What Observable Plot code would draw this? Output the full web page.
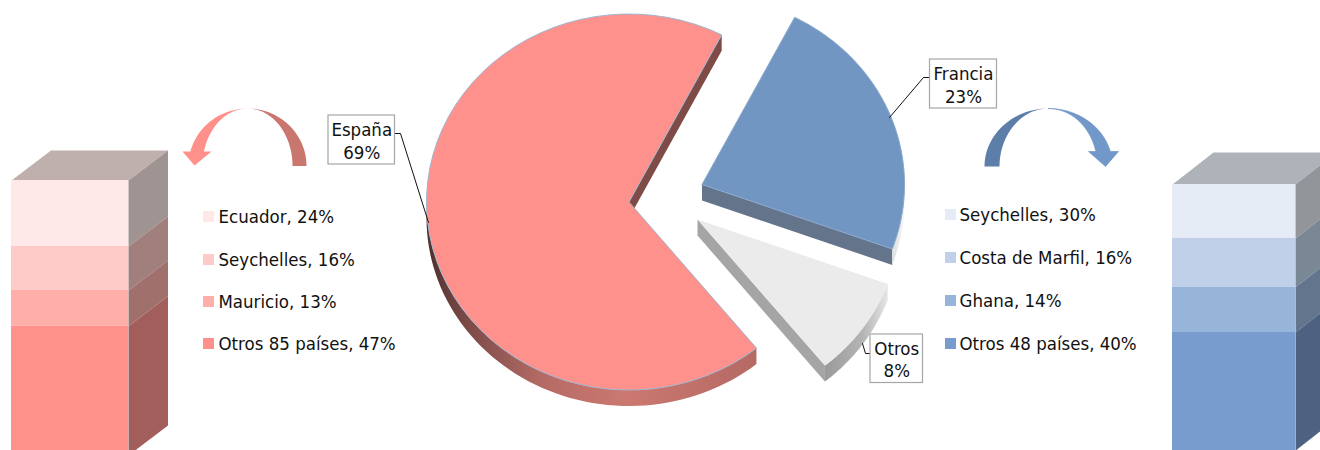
<!DOCTYPE html>
<html>
<head>
<meta charset="utf-8">
<script src="https://cdn.jsdelivr.net/npm/d3@7"></script>
<script src="https://cdn.jsdelivr.net/npm/@observablehq/plot@0.6"></script>
<style>
html,body{margin:0;padding:0;background:#fff;overflow:hidden}
svg{display:block}
</style>
</head>
<body>
<div id="chart"></div>
<script>
// ---- values ----
const pieLabels = ["España", "Francia", "Otros"];
const pieShares = [69, 23, 8];
// slice sizes as measured on the drawn pie (before the labels' rounding)
const pieDrawnShares = [68.4, 23, 8.6];

const leftNames = ["Ecuador", "Seychelles", "Mauricio", "Otros 85 países"];
const leftShares = [24, 16, 13, 47];

const rightNames = ["Seychelles", "Costa de Marfil", "Ghana", "Otros 48 países"];
const rightShares = [30, 16, 14, 40];
// the right column in the picture is not drawn in proportion to its labels
const rightColumnHeights = [19.6, 17.8, 16.4, 43];

// ---- styling and layout ----
const FONT = '"DejaVu Sans Condensed","DejaVu Sans",sans-serif';
const leftFront = ["#ffe9e8", "#ffcbc8", "#ffaea9", "#ff918a"];
const leftSide = ["#a09492", "#a07f7c", "#a0706c", "#a25e5b"];
const rightFront = ["#e6ecf6", "#bfd0e8", "#97b4d9", "#789cce"];
const rightSide = ["#929599", "#7a8794", "#62758d", "#4d6180"];

const RX = 202.5, RY = 188, DEPTH = 16, START = 141;
const pieLayout = [
  {cx: 628.5, cy: 201.5, top: "#fe918c", edge: "#7e4b47", wall: "url(#wallRed)", stroke: "#9fb6d0"},
  {cx: 701.5, cy: 184, top: "#7096c1", edge: "#64748b", wall: "url(#wallBlue)", stroke: "#8aa8cc"},
  {cx: 697, cy: 219, top: "#ebebeb", edge: "#a5a5a5", wall: "url(#wallGrey)", stroke: "none"}
];
const boxLayout = [
  {x1: 328, x2: 394.5, y1: 115, y2: 164, leader: [[394.5, 133], [400, 133], [428, 222]]},
  {x1: 929.5, x2: 996.5, y1: 59, y2: 108, leader: [[929.5, 77], [923, 77], [889, 117]]},
  {x1: 870, x2: 922.5, y1: 334, y2: 382.5, leader: [[870, 353], [865, 353], [862, 343]]}
];

const rad = (a) => (a * Math.PI) / 180;
const pt = (cx, cy, t, rx = RX, ry = RY) => [cx + rx * Math.sin(rad(t)), cy - ry * Math.cos(rad(t))];
const arc = (cx, cy, a, b, rx, ry) => d3.range(0, 61).map((i) => pt(cx, cy, a + ((b - a) * i) / 60, rx, ry));
const poly = (points, fill, stroke = "none", strokeWidth = 1) =>
  Plot.line(points, {x: (d) => d[0], y: (d) => d[1], fill, stroke, strokeWidth, curve: "linear"});

// ---- pie, from the shares ----
const bounds = [START];
pieDrawnShares.forEach((s) => bounds.push(bounds[bounds.length - 1] + (s * 360) / 100));

const pieMarks = [];
pieDrawnShares.forEach((s, i) => {
  const {cx, cy, top, edge, wall, stroke} = pieLayout[i];
  const turn = bounds[i] >= 360 ? 360 : 0;
  const a = bounds[i] - turn, b = bounds[i + 1] - turn;
  // straight cut that faces the viewer
  const p = pt(cx, cy, b);
  pieMarks.push(poly([[cx, cy], p, [p[0], p[1] + DEPTH], [cx, cy + DEPTH], [cx, cy]], edge));
  // rounded wall: only the lower half of the rim shows
  const lo = Math.max(a, 90), hi = Math.min(b, 270);
  const upper = arc(cx, cy, lo, hi);
  const lower = upper.map(([x, y]) => [x, y + DEPTH]).reverse();
  pieMarks.push(poly([...upper, ...lower, upper[0]], wall));
  // top face
  pieMarks.push(poly([[cx, cy], ...arc(cx, cy, a, b), [cx, cy]], top, stroke));
});

// ---- 3D stacked columns ----
function column(values, x1, x2, top, dx, dy, k, front, side, roof) {
  const ends = d3.cumsum(values);
  const rows = values.map((v, i) => ({
    y1: top + (i ? ends[i - 1] : 0) * k,
    y2: top + ends[i] * k,
    front: front[i],
    side: side[i]
  }));
  return [
    poly([[x1, top], [x1 + dx, top + dy], [x2 + dx, top + dy], [x2, top], [x1, top]], roof),
    ...rows.map((r) =>
      poly([[x2, r.y1], [x2 + dx, r.y1 + dy], [x2 + dx, r.y2 + dy], [x2, r.y2], [x2, r.y1]], r.side)
    ),
    Plot.rect(rows, {x1: () => x1, x2: () => x2, y1: "y1", y2: "y2", fill: "front"})
  ];
}

// ---- curved arrows: dark tail half, light head half ----
function curvedArrow(cx, cy, sign, rx, ry, innerRx, neckY, head, dark, light, stroke) {
  const neckT = (Math.acos((cy - neckY) / ry) * 180) / Math.PI;
  const tailT = d3.range(0, 31).map((i) => (i / 30) * 90);
  const headT = d3.range(0, 31).map((i) => (i / 30) * neckT);
  const darkPts = [
    ...tailT.map((t) => pt(cx, cy, -sign * t, rx, ry)),
    ...tailT.slice().reverse().map((t) => pt(cx, cy, -sign * t, innerRx, ry))
  ];
  const lightPts = [
    ...headT.map((t) => pt(cx, cy, sign * t, rx, ry)),
    [head.outer, neckY],
    [head.tipX, head.tipY],
    [head.inner, neckY],
    ...headT.slice().reverse().map((t) => pt(cx, cy, sign * t, innerRx, ry))
  ];
  lightPts.push(lightPts[0]);
  return [poly(darkPts, dark), poly(lightPts, light, stroke, 0.6)];
}

// ---- label tables ----
const boxes = pieLabels.map((name, i) => ({
  ...boxLayout[i],
  text: `${name}\n${pieShares[i]}%`,
  xc: (boxLayout[i].x1 + boxLayout[i].x2) / 2,
  yc: (boxLayout[i].y1 + boxLayout[i].y2) / 2
}));

function legend(names, shares, colors, xSwatch, xText, rowsY) {
  const rows = names.map((n, i) => ({text: `${n}, ${shares[i]}%`, color: colors[i], y: rowsY[i]}));
  return [
    Plot.rect(rows, {x1: () => xSwatch, x2: () => xSwatch + 11, y1: (d) => d.y - 5.5, y2: (d) => d.y + 5.5, fill: "color"}),
    Plot.text(rows, {x: () => xText, y: "y", text: "text", textAnchor: "start", lineAnchor: "middle",
      fontSize: 18.5, fontFamily: FONT, fill: "#111"})
  ];
}

function gradientDefs() {
  const ns = d3.create("svg:g");
  const defs = ns.append("defs");
  const add = (id, stops) => {
    const g = defs.append("linearGradient").attr("id", id).attr("x1", 0).attr("x2", 1).attr("y1", 0).attr("y2", 0);
    stops.forEach(([o, c]) => g.append("stop").attr("offset", o).attr("stop-color", c));
  };
  add("wallRed", [[0, "#4f2f2d"], [0.12, "#7a4a47"], [0.35, "#b56b65"], [0.6, "#cb7870"], [1, "#b56a64"]]);
  add("wallBlue", [[0, "#dcdfe3"], [1, "#f6f6f7"]]);
  add("wallGrey", [[0, "#9a9a9a"], [0.6, "#b4b4b4"], [1, "#e6e6e6"]]);
  return ns.node();
}

const chart = Plot.plot({
  width: 1320,
  height: 450,
  margin: 0,
  x: {domain: [0, 1320], range: [0, 1320], axis: null},
  y: {domain: [0, 450], range: [0, 450], axis: null},
  color: {type: "identity"},
  style: {background: "#fff"},
  marks: [
    gradientDefs,
    ...column(leftShares, 11, 128, 180, 39.5, -30, 2.75, leftFront, leftSide, "#bfb0ad"),
    ...column(rightColumnHeights, 1172, 1295, 184, 41, -32, 2.75, rightFront, rightSide, "#aeb3ba"),
    ...curvedArrow(247, 165.5, -1, 59, 57.5, 45, 151,
      {outer: 182, tipX: 194, tipY: 165, inner: 211}, "#c9766f", "#ff918a", "none"),
    ...curvedArrow(1048, 166, 1, 64, 58, 49, 151,
      {outer: 1118, tipX: 1105, tipY: 166, inner: 1088}, "#5d7ea8", "#7298ca", "#6a8fbd"),
    ...legend(leftNames, leftShares, leftFront, 203, 218, [216.5, 259.5, 301.5, 343.5]),
    ...legend(rightNames, rightShares, rightFront, 945, 959, [214.5, 257.5, 300.5, 343.5]),
    ...pieMarks,
    ...boxLayout.map((b) => Plot.line(b.leader, {x: (d) => d[0], y: (d) => d[1], stroke: "#111", strokeWidth: 1})),
    Plot.rect(boxes, {x1: "x1", x2: "x2", y1: "y1", y2: "y2", fill: "#fff", stroke: "#a6a6a6", strokeWidth: 1.2}),
    Plot.text(boxes, {x: "xc", y: "yc", text: "text", lineHeight: 1.22, fontSize: 18.5, fontFamily: FONT, fill: "#111"})
  ]
});
document.getElementById("chart").appendChild(chart);
</script>
</body>
</html>
